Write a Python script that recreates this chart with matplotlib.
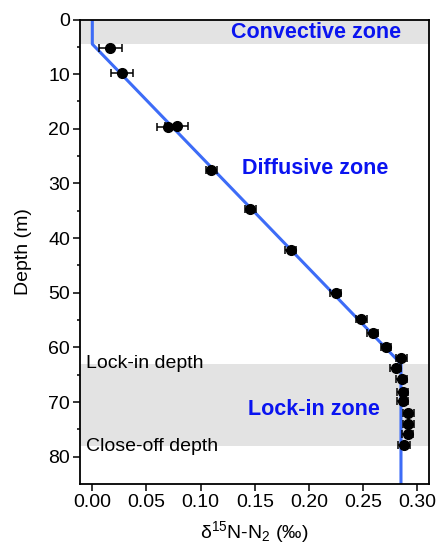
import matplotlib
matplotlib.use("Agg")
import matplotlib.pyplot as plt

plt.rcParams['font.family'] = ['Liberation Sans', 'DejaVu Sans']

# Firn air measurements: delta15N of N2 versus depth
d15n = [0.0166, 0.0274, 0.0702, 0.0780, 0.1100, 0.1460, 0.1830, 0.2247,
        0.2484, 0.2589, 0.2712, 0.2853, 0.2801, 0.2857, 0.2866, 0.2866,
        0.2918, 0.2918, 0.2912, 0.2878]
depth = [5.3, 9.8, 19.7, 19.4, 27.6, 34.6, 42.2, 50.0,
         54.8, 57.4, 59.9, 62.0, 63.8, 65.8, 68.1, 69.9,
         72.0, 74.1, 75.9, 77.8]
d15n_err = [0.0105, 0.0105, 0.0105, 0.0105, 0.005, 0.005, 0.005, 0.005,
            0.005, 0.005, 0.005, 0.0053, 0.0053, 0.0053, 0.0053, 0.0053,
            0.0053, 0.0053, 0.0053, 0.0053]

# Gravitational-settling model profile
model_x = [0.0, 0.0, 0.285, 0.285]
model_depth = [0.0, 4.5, 63.0, 85.0]

# Zone boundaries (m)
convective_base = 4.5
lock_in_depth = 63.0
close_off_depth = 78.0

blue_line = '#3D6CF7'
zone_text = '#0A14F0'
band = '#E3E3E3'

fig = plt.figure(figsize=(4.37, 5.51), dpi=100)
ax = fig.add_axes([0.183, 0.1216, 0.799, 0.843])

ax.axhspan(0, convective_base, color=band, lw=0, zorder=0)
ax.axhspan(lock_in_depth, close_off_depth, color=band, lw=0, zorder=0)

ax.plot(model_x, model_depth, color=blue_line, lw=2.2, zorder=2)
ax.errorbar(d15n, depth, xerr=d15n_err, fmt='o', color='black', ms=7,
            elinewidth=1.1, capsize=2.6, capthick=1.1, zorder=3)

ax.text(0.207, 2.3, 'Convective zone', color=zone_text, fontsize=15.5,
        fontweight='bold', ha='center', va='center')
ax.text(0.206, 27.3, 'Diffusive zone', color=zone_text, fontsize=15.5,
        fontweight='bold', ha='center', va='center')
ax.text(0.205, 71.4, 'Lock-in zone', color=zone_text, fontsize=15.5,
        fontweight='bold', ha='center', va='center')
ax.text(-0.0055, 62.9, 'Lock-in depth', color='black', fontsize=14,
        ha='left', va='center')
ax.text(-0.0055, 78.2, 'Close-off depth', color='black', fontsize=14,
        ha='left', va='center')

ax.set_xlim(-0.0114, 0.311)
ax.set_ylim(85, 0)
ax.set_xticks([0.0, 0.05, 0.10, 0.15, 0.20, 0.25, 0.30])
ax.set_xticklabels(['0.00', '0.05', '0.10', '0.15', '0.20', '0.25', '0.30'])
ax.set_yticks([0, 10, 20, 30, 40, 50, 60, 70, 80])
ax.set_yticks(range(5, 85, 10), minor=True)

ax.tick_params(which='major', direction='out', length=5, width=1.1,
               labelsize=14, colors='black', pad=2)
ax.tick_params(which='minor', direction='out', length=2.5, width=1.1)
for s in ax.spines.values():
    s.set_linewidth(1.3)

ax.set_xlabel(r'$\mathregular{\delta^{15}N}$-$\mathregular{N_2}$ (‰)', fontsize=14,
              labelpad=6)
ax.set_ylabel('Depth (m)', fontsize=14, labelpad=12)

fig.savefig('out.png', dpi=100)
